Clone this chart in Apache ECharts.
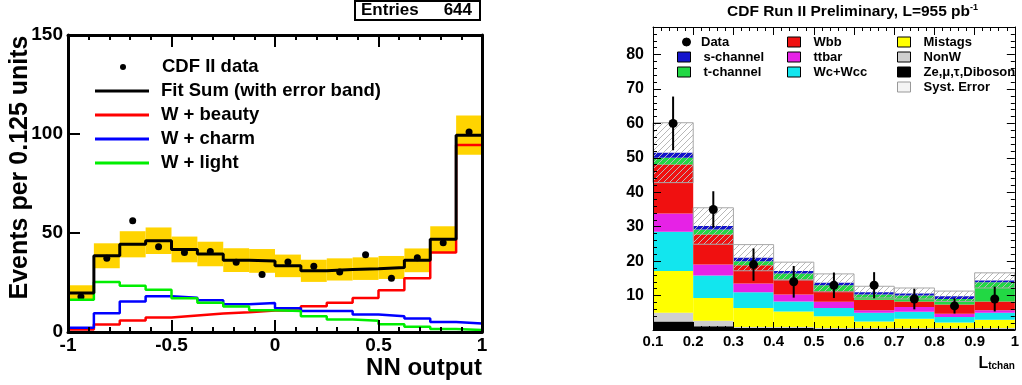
<!DOCTYPE html>
<html lang="en" style="height: 100%">
<head>
<meta charset="utf-8">
<title>CDF NN output and L_tchan</title>
</head>
<body style="height: 100%; margin: 0">
<div id="container" style="width: 1022px; height: 385px"></div>

<script type="text/javascript" src="https://cdn.jsdelivr.net/npm/echarts/dist/echarts.min.js"></script>

<script type="text/javascript">

var FONT = '"Liberation Sans", Arial, Helvetica, sans-serif';

// left panel: NN output, 16 bins of 0.125
var nnEdges = [-1, -0.875, -0.75, -0.625, -0.5, -0.375, -0.25, -0.125, 0, 0.125, 0.25, 0.375, 0.5, 0.625, 0.75, 0.875, 1];
var nnData = [17.8, 37.2, 56.2, 43.1, 40.2, 40.6, 35.2, 29.1, 35.4, 33.2, 30.3, 39, 27.1, 37.5, 45.1, 101];
var fitSum = [19.7, 38.5, 44.3, 46.1, 41.7, 39.4, 36.3, 35.9, 33.4, 30.9, 31.6, 32, 32.6, 36.2, 46.9, 99.4];
var fitErr = [3.9, 6.3, 6.6, 6.7, 6.5, 6.2, 6, 6, 5.7, 5.6, 5.6, 5.7, 5.8, 6, 6.5, 9.9];
var wBeauty = [1.3, 3.8, 5.8, 7.3, 8.3, 9.3, 10, 10.9, 10.8, 13, 14.8, 17.2, 21.1, 27.1, 40.1, 94.4];
var wCharm = [2.1, 9.5, 15.4, 18.1, 17.3, 16, 14, 14.6, 12, 10.6, 10.6, 8.8, 8, 6.8, 5.1, 4.3];
var wLight = [16.3, 25.3, 23.4, 21.4, 17.1, 14.8, 12.9, 11, 10.6, 7.9, 6.3, 5.7, 3.9, 2.7, 1.5, 1];

// right panel: L_tchan, 9 bins of 0.1
var lBins = ['0.1-0.2', '0.2-0.3', '0.3-0.4', '0.4-0.5', '0.5-0.6', '0.6-0.7', '0.7-0.8', '0.8-0.9', '0.9-1.0'];
var lLow = [0.1, 0.2, 0.3, 0.4, 0.5, 0.6, 0.7, 0.8, 0.9];
var lHigh = [0.2, 0.3, 0.4, 0.5, 0.6, 0.7, 0.8, 0.9, 1.0];
var lCenter = [0.15, 0.25, 0.35, 0.45, 0.55, 0.65, 0.75, 0.85, 0.95];
var zDiboson = [2.5, 1.1, 0.6, 0.6, 0.3, 0.3, 0.3, 0.3, 0.3];
var nonW = [2.5, 1.6, 0.3, 0.3, 0.3, 0.3, 0.3, 0.3, 0.3];
var mistags = [12.1, 6.6, 5.5, 4.5, 3.4, 1.9, 2.7, 1.6, 2.4];
var wcWcc = [11.4, 6.5, 4.6, 2.9, 2.4, 2.5, 2, 1.6, 2];
var ttbar = [5.3, 3.2, 2.5, 2, 1.8, 0.7, 1.4, 0.9, 0.7];
var wbb = [14.3, 8.7, 5.3, 4.4, 3.1, 3.1, 1.6, 2.7, 2.6];
var tChannel = [1.9, 1.5, 1.2, 1.7, 1.7, 1.5, 1.7, 1.6, 5.6];
var sChannel = [1.5, 1, 1, 0.7, 0.7, 0.7, 0.6, 0.8, 0.5];
var systErr = [8.7, 5.3, 3.8, 2.6, 2.6, 1.7, 1.6, 1.5, 2.2];
var lData = [60, 35, 19, 14, 13, 13, 9, 7, 9];
var lDataErr = [7.8, 5.3, 4.7, 4.6, 3.7, 3.8, 3, 2.2, 3.6];

var dom = document.getElementById('container');
var myChart = echarts.init(dom);

function steps(values) {
    var pts = values.map(function (v, i) { return [nnEdges[i], v]; });
    pts.push([nnEdges[nnEdges.length - 1], values[values.length - 1]]);
    return pts;
}

function rectItem(fill, stroke) {
    return function (params, api) {
        var p0 = api.coord([api.value(0), api.value(3)]);
        var p1 = api.coord([api.value(1), api.value(2)]);
        return {
            type: 'rect',
            shape: {x: p0[0], y: p0[1], width: p1[0] - p0[0], height: p1[1] - p0[1]},
            style: {fill: fill, stroke: stroke || null, lineWidth: stroke ? 1 : 0}
        };
    };
}

// hatch pattern for the systematic error band
var hatch = document.createElement('canvas');
hatch.width = 6;
hatch.height = 6;
var hc = hatch.getContext('2d');
hc.strokeStyle = '#b8b8b8';
hc.lineWidth = 1;
hc.beginPath();
hc.moveTo(0, 6); hc.lineTo(6, 0);
hc.moveTo(-1, 1); hc.lineTo(1, -1);
hc.moveTo(5, 7); hc.lineTo(7, 5);
hc.stroke();

var bandData = fitSum.map(function (v, i) {
    return [nnEdges[i], nnEdges[i + 1], v - fitErr[i], v + fitErr[i]];
});
var nnPoints = nnData.map(function (v, i) {
    return [(nnEdges[i] + nnEdges[i + 1]) / 2, v];
});

var stackDefs = [
    ['Ze,μ,τ,Diboson', zDiboson, '#000000'],
    ['NonW', nonW, '#cfcfcf'],
    ['Mistags', mistags, '#ffff00'],
    ['Wc+Wcc', wcWcc, '#12e6ee'],
    ['ttbar', ttbar, '#e622e6'],
    ['Wbb', wbb, '#f01010'],
    ['t-channel', tChannel, '#22d844'],
    ['s-channel', sChannel, '#1414cc']
];
var totals = lBins.map(function (b, i) {
    return stackDefs.reduce(function (s, d) { return s + d[1][i]; }, 0);
});
var systData = totals.map(function (t, i) {
    return [lLow[i], lHigh[i], t - systErr[i], t + systErr[i]];
});
var errData = lData.map(function (v, i) {
    return [lCenter[i], v - lDataErr[i], v + lDataErr[i]];
});
var lPoints = lData.map(function (v, i) { return [lCenter[i], v]; });

var boldText = {fontFamily: FONT, fontWeight: 'bold', color: '#000'};

function leftX(pos, labels) {
    return {
        type: 'value', gridIndex: 0, position: pos, min: -1, max: 1, interval: 0.5, z: 10,
        axisLine: {show: true, onZero: false, lineStyle: {color: '#000', width: 3}},
        axisTick: {show: true, inside: true, length: 12, lineStyle: {color: '#000', width: 2}},
        minorTick: {show: true, splitNumber: 5, length: 5, lineStyle: {color: '#000', width: 2}},
        splitLine: {show: false},
        axisLabel: labels ? Object.assign({fontSize: 19, margin: 4}, boldText) : {show: false}
    };
}
function rightX(pos, labels) {
    return {
        type: 'value', gridIndex: 1, position: pos, min: 0.1, max: 1, interval: 0.1, z: 10,
        axisLine: {show: true, onZero: false, lineStyle: {color: '#000', width: 1}},
        axisTick: {show: true, inside: true, length: 8, lineStyle: {color: '#000'}},
        minorTick: {show: true, splitNumber: 5, length: 4, lineStyle: {color: '#000'}},
        splitLine: {show: false},
        axisLabel: labels ? Object.assign({fontSize: 15, margin: 4}, boldText) : {show: false}
    };
}
function rightY(pos, labels) {
    return {
        type: 'value', gridIndex: 1, position: pos, min: 0, max: 88, interval: 10, z: 10,
        axisLine: {show: true, onZero: false, lineStyle: {color: '#000', width: 1}},
        axisTick: {show: true, inside: true, length: 8, lineStyle: {color: '#000'}},
        minorTick: {show: true, splitNumber: 5, length: 4, lineStyle: {color: '#000'}},
        splitLine: {show: false},
        axisLabel: labels ? Object.assign({
            fontSize: 16, margin: 9, showMaxLabel: false,
            formatter: function (v) { return v === 0 ? '' : String(v); }
        }, boldText) : {show: false}
    };
}

var xLeftBottom = leftX('bottom', true);
xLeftBottom.name = 'NN output';
xLeftBottom.nameLocation = 'end';
xLeftBottom.nameGap = 0;
xLeftBottom.nameTextStyle = Object.assign({fontSize: 24, align: 'right', verticalAlign: 'top', padding: [24, 0, 0, 0]}, boldText);

var xRightBottom = rightX('bottom', true);
xRightBottom.name = '{l|L}{s|tchan}';
xRightBottom.nameLocation = 'end';
xRightBottom.nameGap = 0;
xRightBottom.nameTextStyle = {
    align: 'right', verticalAlign: 'top', padding: [26, 0, 0, 0],
    rich: {
        l: Object.assign({fontSize: 16, padding: [0, 0, 5, 0]}, boldText),
        s: Object.assign({fontSize: 10}, boldText)
    }
};

function boxLegend(left, top, names, pad, icon, h) {
    return {
        left: left, top: top, padding: 0, orient: 'vertical', itemWidth: 13, itemHeight: h || 10, itemGap: 0,
        icon: icon || 'rect', selectedMode: false,
        itemStyle: {borderColor: '#000', borderWidth: 1},
        textStyle: Object.assign({fontSize: 13, lineHeight: 15, padding: [0, 0, 0, pad]}, boldText),
        data: names
    };
}

var series = [
    {
        type: 'custom', name: 'band', xAxisIndex: 0, yAxisIndex: 0, z: 1,
        renderItem: rectItem('#ffd400'), data: bandData, silent: true
    },
    {type: 'line', name: 'W + beauty', xAxisIndex: 0, yAxisIndex: 0, step: 'end', symbol: 'none',
        lineStyle: {color: '#ff0000', width: 2.5}, itemStyle: {color: '#ff0000'}, data: steps(wBeauty)},
    {type: 'line', name: 'W + charm', xAxisIndex: 0, yAxisIndex: 0, step: 'end', symbol: 'none',
        lineStyle: {color: '#0000ff', width: 2.5}, itemStyle: {color: '#0000ff'}, data: steps(wCharm)},
    {type: 'line', name: 'W + light', xAxisIndex: 0, yAxisIndex: 0, step: 'end', symbol: 'none',
        lineStyle: {color: '#00ee00', width: 2.5}, itemStyle: {color: '#00ee00'}, data: steps(wLight)},
    {type: 'line', name: 'Fit Sum (with error band)', xAxisIndex: 0, yAxisIndex: 0, step: 'end', symbol: 'none',
        lineStyle: {color: '#000', width: 3}, itemStyle: {color: '#000'}, data: steps(fitSum)},
    {type: 'scatter', name: 'CDF II data', xAxisIndex: 0, yAxisIndex: 0, symbolSize: 7,
        itemStyle: {color: '#000', opacity: 1}, data: nnPoints}
];

stackDefs.forEach(function (d) {
    series.push({
        type: 'bar', name: d[0], xAxisIndex: 4, yAxisIndex: 2, stack: 'mc',
        barCategoryGap: '0%', itemStyle: {color: d[2]}, data: d[1]
    });
});

series.push(
    {
        type: 'custom', name: 'Syst. Error', xAxisIndex: 2, yAxisIndex: 2, z: 3,
        itemStyle: {color: '#f4f4f4'},
        renderItem: rectItem({image: hatch, repeat: 'repeat'}, '#a8a8a8'), data: systData
    },
    {
        type: 'custom', name: 'err', xAxisIndex: 2, yAxisIndex: 2, z: 4,
        renderItem: function (params, api) {
            var x = api.value(0);
            var a = api.coord([x, api.value(1)]);
            var b = api.coord([x, api.value(2)]);
            return {type: 'line', shape: {x1: a[0], y1: a[1], x2: b[0], y2: b[1]},
                style: {stroke: '#000', lineWidth: 2}};
        },
        data: errData
    },
    {type: 'scatter', name: 'Data', xAxisIndex: 2, yAxisIndex: 2, z: 5, symbolSize: 9,
        itemStyle: {color: '#000', opacity: 1}, data: lPoints}
);

var lineLegendText = Object.assign({fontSize: 18.5, lineHeight: 24, padding: [0, 0, 0, 7]}, boldText);

option = {
    animation: false,
    backgroundColor: '#fff',
    title: [
        {
            left: 355, top: 0, padding: [1, 8, 1, 6], borderColor: '#000', borderWidth: 2,
            text: '{a|Entries}{b|644}',
            textStyle: {rich: {
                a: Object.assign({fontSize: 17, width: 83, lineHeight: 19}, boldText),
                b: Object.assign({fontSize: 17, width: 28, align: 'right', lineHeight: 19}, boldText)
            }}
        },
        {
            left: 727, top: 3, padding: 0,
            text: 'CDF Run II Preliminary, L=955 pb{s|-1}',
            textStyle: Object.assign({fontSize: 15.5, lineHeight: 18, rich: {
                s: Object.assign({fontSize: 9, lineHeight: 10, verticalAlign: 'top'}, boldText)
            }}, boldText)
        }
    ],
    legend: [
        {
            left: 120, top: 55, padding: 0, orient: 'vertical', itemWidth: 54, itemHeight: 6, itemGap: 0,
            selectedMode: false, icon: 'circle',
            itemStyle: {opacity: 1},
            textStyle: lineLegendText,
            data: ['CDF II data']
        },
        {
            left: 95, top: 79, padding: 0, orient: 'vertical', itemWidth: 54, itemHeight: 3, itemGap: 0,
            selectedMode: false, icon: 'rect',
            textStyle: lineLegendText,
            data: ['Fit Sum (with error band)', 'W + beauty', 'W + charm', 'W + light']
        },
        boxLegend(682, 34.5, ['Data'], 3, 'circle', 8),
        boxLegend(677, 49.5, ['s-channel', 't-channel'], 8),
        boxLegend(787, 34.5, ['Wbb', 'ttbar', 'Wc+Wcc'], 8),
        boxLegend(897, 34.5, ['Mistags', 'NonW', 'Ze,μ,τ,Diboson',
            {name: 'Syst. Error', itemStyle: {color: '#f4f4f4', borderColor: '#999'}}], 8)
    ],
    grid: [
        {left: 68, top: 35, width: 414, height: 297},
        {left: 653, top: 27, width: 366, height: 303}
    ],
    xAxis: [
        xLeftBottom,
        leftX('top', false),
        xRightBottom,
        rightX('top', false),
        {type: 'category', gridIndex: 1, data: lBins, show: false}
    ],
    yAxis: [
        {
            type: 'value', gridIndex: 0, position: 'left', min: 0, max: 150, interval: 50, z: 10,
            name: 'Events per 0.125 units', nameLocation: 'middle', nameGap: 35, nameMoveOverlap: false,
            nameTextStyle: Object.assign({fontSize: 25, padding: [0, 0, 0, 32]}, boldText),
            axisLine: {show: true, onZero: false, lineStyle: {color: '#000', width: 3}},
            axisTick: {show: true, inside: true, length: 12, lineStyle: {color: '#000', width: 2}},
            splitLine: {show: false},
            axisLabel: Object.assign({fontSize: 19, margin: 5}, boldText)
        },
        {
            type: 'value', gridIndex: 0, position: 'right', min: 0, max: 150, interval: 50, z: 10,
            axisLine: {show: true, onZero: false, lineStyle: {color: '#000', width: 3}},
            axisTick: {show: false}, splitLine: {show: false}, axisLabel: {show: false}
        },
        rightY('left', true),
        rightY('right', false)
    ],
    series: series
};

if (option && typeof option === 'object') {
    myChart.setOption(option);
}

window.addEventListener('resize', myChart.resize);
</script>
</body>
</html>
